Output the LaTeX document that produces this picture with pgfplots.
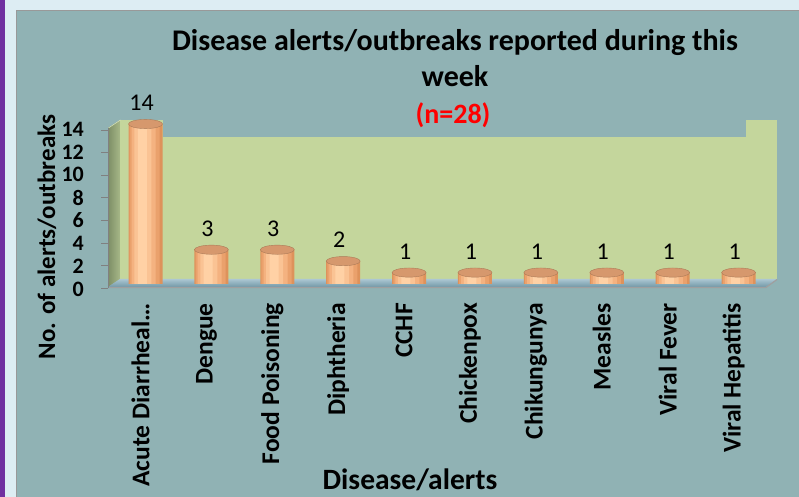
\documentclass[border=0pt]{standalone}
\usepackage{pgfplots}
\usepackage{pgfplotstable}
\pgfplotsset{compat=1.18}
\usepackage{fontspec}
\setmainfont{Carlito}
\definecolor{purpleL}{HTML}{7030A0}
\definecolor{lightB}{HTML}{DDEDF3}
\definecolor{tealBG}{HTML}{90B2B4}
\definecolor{wallG}{HTML}{C4D69C}
\definecolor{wallL1}{HTML}{7D8E66}
\definecolor{wallL2}{HTML}{A7B888}
\definecolor{floorB}{HTML}{7FA9BA}
\definecolor{b1}{HTML}{DE925B}
\definecolor{b2}{HTML}{EAA16C}
\definecolor{b3}{HTML}{F4B280}
\definecolor{b4}{HTML}{FAC394}
\definecolor{b5}{HTML}{FFD1A5}
\definecolor{topC}{HTML}{D6986D}
\pgfplotstableread{
x y
0 14
1 3
2 3
3 2
4 1
5 1
6 1
7 1
8 1
9 1
}\datatable
\begin{document}
\begin{tikzpicture}
\useasboundingbox (0,0) rectangle (799pt,497pt);
\begin{scope}[x=1pt,y=-1pt,yshift=497pt]
 \fill[lightB] (0,0) rectangle (799,497);
 \fill[purpleL] (0,0) rectangle (5,497);
 \fill[tealBG] (16,10) rectangle (799,497);
 \draw[gray!80] (16.5,497) -- (16.5,10.5) -- (799,10.5);
 % back wall
 \fill[wallG] (120,120) rectangle (777,279);
 % left wall
 \shade[left color=wallL1, right color=wallL2] (108,128) -- (120,120) -- (120,279) -- (108,287) -- cycle;
 \fill[wallG!70!white] (108,128) -- (120,120) -- (121,120) -- (109,128) -- cycle;
 % floor
 \shade[top color=floorB!65!white, bottom color=floorB!90!black] (108,287) -- (120,279) -- (777,279) -- (766,287) -- cycle;
 \draw[gray!75, line width=1.2pt] (108,287.5) -- (766,287.5) -- (777,279.5);
 % title cover
 \fill[tealBG] (163,11) rectangle (746,137);
 % y axis edge and ticks
 \draw[gray] (108,128) -- (108,288);
 \foreach \v in {0,2,...,14} \draw[gray] (101,{288-11.29*\v}) -- (108,{288-11.29*\v});
 % titles
 \node[font=\bfseries\fontsize{30}{32}\selectfont, inner sep=0pt] at (455,43) {Disease alerts/outbreaks reported during this};
 \node[font=\bfseries\fontsize{30}{32}\selectfont, inner sep=0pt] at (455,76) {week};
 \node[font=\bfseries\fontsize{28}{30}\selectfont, text=red, inner sep=0pt] at (453,115) {(n=28)};
 \node[font=\bfseries\fontsize{29.5}{32}\selectfont, inner sep=0pt] at (410,480) {Disease/alerts};
 \node[font=\bfseries\fontsize{25}{28}\selectfont, inner sep=0pt, rotate=90] at (47,237) {No. of alerts/outbreaks};
\end{scope}
\begin{axis}[
 at={(114pt,213pt)}, anchor=south west, scale only axis,
 width=657pt, height=160pt,
 xmin=-0.478, xmax=9.492, ymin=0, ymax=14,
 clip=false,
 axis line style={draw=none},
 major tick length=0pt,
 ytick={0,2,...,14},
 xtick={0,...,9},
 xticklabels={Acute Diarrheal\ldots, Dengue, Food Poisoning, Diphtheria, CCHF, Chickenpox, Chikungunya, Measles, Viral Fever, Viral Hepatitis},
 /pgf/number format/assume math mode=true,
 yticklabel style={font=\bfseries\fontsize{22}{22}\selectfont, anchor=east, inner sep=0pt, xshift=-30pt, yshift=-5pt},
 xticklabel style={font=\bfseries\fontsize{25.5}{25.5}\selectfont, xshift=-5pt, yshift=-19pt, rotate=90, anchor=east, inner sep=0pt},
]
\addplot[ybar, bar width=34pt, bar shift=0pt, fill=b1, draw=none] table[x=x,y=y] {\datatable};
\addplot[ybar, bar width=30pt, bar shift=-0.8pt, fill=b2, draw=none] table[x=x,y=y] {\datatable};
\addplot[ybar, bar width=24pt, bar shift=-1.8pt, fill=b3, draw=none] table[x=x,y=y] {\datatable};
\addplot[ybar, bar width=17pt, bar shift=-2.6pt, fill=b4, draw=none] table[x=x,y=y] {\datatable};
\addplot[ybar, bar width=9pt, bar shift=-3.2pt, fill=b5, draw=none] table[x=x,y=y] {\datatable};
\addplot[only marks, mark=*, mark size=17pt, mark options={yscale=0.27, fill=topC, draw=topC!80!black, line width=0.4pt},
 nodes near coords,
 nodes near coords style={font=\fontsize{24}{24}\selectfont, text=black, anchor=center, yshift=21pt, xshift=-4pt}]
 table[x=x,y=y] {\datatable};
\end{axis}
\end{tikzpicture}
\end{document}
